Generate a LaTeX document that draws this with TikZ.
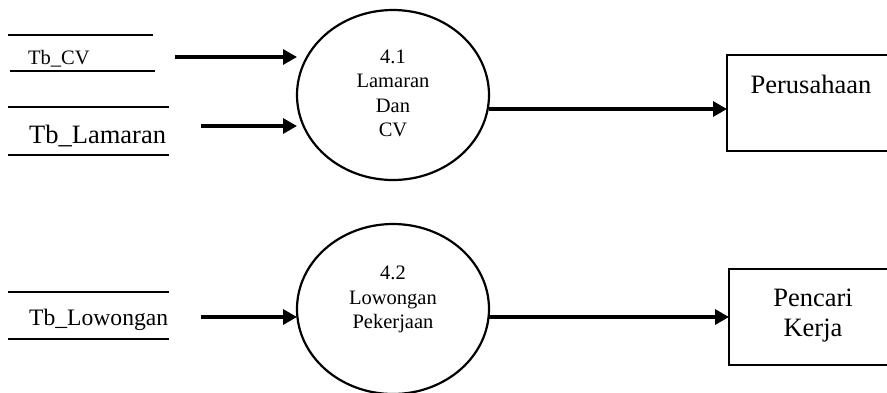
\documentclass[tikz,border=0pt]{standalone}
\usepackage{fontspec}
\setmainfont{Liberation Serif}
\usetikzlibrary{shapes.geometric,arrows.meta}
\begin{document}
\begin{tikzpicture}[x=1pt,y=-1pt,
  flow/.style={line width=3.2pt,-{Triangle[length=14pt,width=15pt]}},
  storeline/.style={line width=2.5pt},
  proc/.style={draw,ellipse,line width=2.2pt,minimum width=192pt,minimum height=170pt,inner sep=0pt},
  ent/.style={draw,line width=2.5pt,minimum width=183pt,minimum height=96pt,inner sep=0pt},
  txt/.style={inner sep=0pt,align=center}
]
\useasboundingbox (0,0) rectangle (887,392);

% data stores
\draw[storeline] (8,35) -- (153,35);
\draw[storeline] (10,71) -- (155,71);
\node[txt,anchor=base west,font=\fontsize{20.5}{24}\selectfont] (s1) at (28,64) {Tb\_CV};

\draw[storeline] (8,107) -- (169,107);
\draw[storeline] (8,155) -- (169,155);
\node[txt,anchor=base west,font=\fontsize{26.5}{30}\selectfont] (s2) at (29,143) {Tb\_Lamaran};

\draw[storeline] (8,292) -- (169,292);
\draw[storeline] (8,339) -- (169,339);
\node[txt,anchor=base west,font=\fontsize{23.6}{28}\selectfont] (s3) at (29,325) {Tb\_Lowongan};

% processes
\node[proc] (p1) at (393,95) {};
\node[txt,font=\fontsize{20.5}{24.5}\selectfont] (p1t) at (393,93.5) {4.1\\Lamaran\\Dan\\CV};
\node[proc] (p2) at (393,309) {};
\node[txt,font=\fontsize{20.5}{24.5}\selectfont] (p2t) at (393,299.5) {4.2\\Lowongan\\Pekerjaan};

% entities
\node[ent] (e1) at (818.5,103) {};
\node[txt,anchor=base,font=\fontsize{26.5}{30}\selectfont] (e1t) at (811,93) {Perusahaan};
\node[ent] (e2) at (820.5,317) {};
\node[txt,font=\fontsize{26.5}{30}\selectfont] (e2t) at (813,316) {Pencari\\Kerja};

% connector end points
\coordinate (a1s) at (175,57);
\coordinate (a1e) at (297,57);
\coordinate (a2s) at (201,126);
\coordinate (a2e) at (297,126);
\coordinate (a3s) at (489,109);
\coordinate (a3e) at (727,109);
\coordinate (a4s) at (201,317);
\coordinate (a4e) at (297,317);
\coordinate (a5s) at (489,317);
\coordinate (a5e) at (729,317);

\draw[flow] (a1s) -- (a1e);
\draw[flow] (a2s) -- (a2e);
\draw[flow] (a3s) -- (a3e);
\draw[flow] (a4s) -- (a4e);
\draw[flow] (a5s) -- (a5e);
\end{tikzpicture}
\end{document}
